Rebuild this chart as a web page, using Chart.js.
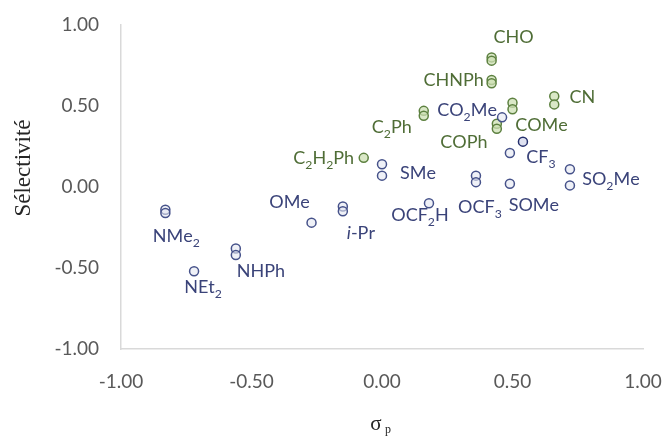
<!DOCTYPE html>
<html>
<head>
<meta charset="utf-8">
<script src="https://cdn.jsdelivr.net/npm/chart.js@4/dist/chart.umd.min.js"></script>
<style>
  html, body { margin: 0; padding: 0; background: #fff; }
  #wrap { width: 667px; height: 437px; }
</style>
</head>
<body>
<div id="wrap"><canvas id="chart"></canvas></div>
<script>
// sigma_p (Hammett) vs selectivity, two families of substituents
const blueSigma = [-0.83, -0.83, -0.72, -0.56, -0.56, -0.27, -0.15, -0.15, 0.00, 0.00, 0.18, 0.36, 0.36, 0.46, 0.49, 0.49, 0.72, 0.72];
const blueSel   = [-0.14, -0.16, -0.52, -0.38, -0.42, -0.22, -0.12, -0.15, 0.14, 0.07, -0.10, 0.07, 0.03, 0.43, 0.02, 0.21, 0.11, 0.01];
const darkSigma = [0.54];
const darkSel   = [0.28];
const greenSigma = [0.42, 0.42, 0.42, 0.42, 0.66, 0.66, 0.50, 0.50, 0.44, 0.44, 0.16, 0.16, -0.07];
const greenSel   = [0.80, 0.78, 0.66, 0.64, 0.56, 0.51, 0.52, 0.48, 0.39, 0.36, 0.47, 0.44, 0.18];

// labels: "_x" = subscript character, "*" toggles italic
const blueLabels  = ['NMe_2', 'NEt_2', 'NHPh', 'OMe', '*i*-Pr', 'SMe', 'OCF_2H', 'OCF_3', 'CO_2Me', 'SOMe', 'CF_3', 'SO_2Me'];
const blueLabelAt = [0, 2, 3, 5, 6, 8, 10, 11, 13, 14, 15, 16];
const blueLabelOffset = [[11, 27], [9, 16], [25, 23], [-22, -20], [18, 27], [36, 9], [-9, 12], [4, 32], [-35, -7], [24, 21], [31, 4], [41, 10]];
const greenLabels  = ['CHO', 'CHNPh', 'CN', 'COMe', 'COPh', 'C_2Ph', 'C_2H_2Ph'];
const greenLabelAt = [0, 2, 4, 6, 8, 10, 12];
const greenLabelOffset = [[22, -20], [-38, 0], [28, 1], [29, 22], [-33, 18], [-32, 16], [-40, 0]];

const xTicks = [-1, -0.5, 0, 0.5, 1];
const yTicks = [-1, -0.5, 0, 0.5, 1];

const BLUE = '#46528a';
const BLUE_TEXT = '#3a4379';
const GREEN = '#5d8140';
const GREEN_TEXT = '#4f6d36';
const LABEL_FONT = 'Lato, sans-serif';
const LABEL_SIZE = 18;

const toPoints = (xs, ys) => xs.map((x, i) => ({ x: x, y: ys[i] }));

function drawRich(ctx, text, cx, cy, size, color) {
  // split into runs
  const runs = [];
  let italic = false;
  for (let i = 0; i < text.length; i++) {
    const ch = text[i];
    if (ch === '*') { italic = !italic; continue; }
    if (ch === '_') { runs.push({ t: text[i + 1], sub: true, italic }); i++; continue; }
    runs.push({ t: ch, sub: false, italic });
  }
  const fontFor = r => (r.italic ? 'italic ' : '') + (r.sub ? size * 0.68 : size) + 'px ' + LABEL_FONT;
  let w = 0;
  runs.forEach(r => { ctx.font = fontFor(r); r.w = ctx.measureText(r.t).width; w += r.w; });
  let x = cx - w / 2;
  ctx.fillStyle = color;
  ctx.textAlign = 'left';
  ctx.textBaseline = 'middle';
  runs.forEach(r => {
    ctx.font = fontFor(r);
    ctx.fillText(r.t, x, r.sub ? cy + size * 0.38 : cy);
    x += r.w;
  });
}

const labelPlugin = {
  id: 'pointLabels',
  afterDatasetsDraw(chart) {
    const ctx = chart.ctx;
    const xs = chart.scales.x, ys = chart.scales.y;
    ctx.save();
    blueLabels.forEach((t, i) => {
      const k = blueLabelAt[i];
      const o = blueLabelOffset[i];
      drawRich(ctx, t, xs.getPixelForValue(blueSigma[k]) + o[0], ys.getPixelForValue(blueSel[k]) + o[1], LABEL_SIZE, BLUE_TEXT);
    });
    greenLabels.forEach((t, i) => {
      const k = greenLabelAt[i];
      const o = greenLabelOffset[i];
      drawRich(ctx, t, xs.getPixelForValue(greenSigma[k]) + o[0], ys.getPixelForValue(greenSel[k]) + o[1], LABEL_SIZE, GREEN_TEXT);
    });
    // axis titles
    const cx = (chart.chartArea.left + chart.chartArea.right) / 2;
    ctx.fillStyle = '#262626';
    ctx.textBaseline = 'middle';
    ctx.textAlign = 'center';
    ctx.font = '21px "Liberation Serif", serif';
    ctx.fillText('σ', cx - 6, 424);
    ctx.font = '12px "Liberation Serif", serif';
    ctx.fillText('p', cx + 6, 430);
    ctx.save();
    ctx.translate(24, 168);
    ctx.rotate(-Math.PI / 2);
    ctx.font = '23px "Liberation Serif", serif';
    ctx.fillText('Sélectivité', 0, 0);
    ctx.restore();
    ctx.restore();
  }
};

new Chart(document.getElementById('chart'), {
  type: 'scatter',
  data: {
    datasets: [
      { label: 'donneurs', data: toPoints(blueSigma, blueSel), borderColor: BLUE, backgroundColor: 'rgba(228,231,242,0.6)' },
      { label: 'CF3', data: toPoints(darkSigma, darkSel), borderColor: '#25306d', backgroundColor: 'rgba(200,205,230,0.6)' },
      { label: 'accepteurs', data: toPoints(greenSigma, greenSel), borderColor: GREEN, backgroundColor: 'rgba(205,224,180,0.75)' }
    ]
  },
  options: {
    responsive: true,
    maintainAspectRatio: false,
    animation: false,
    layout: { padding: { top: 25, right: 24, bottom: 0, left: 0 } },
    elements: { point: { radius: 4.5, borderWidth: 1.5, hoverRadius: 4.5 } },
    plugins: { legend: { display: false }, tooltip: { enabled: false } },
    scales: {
      x: {
        type: 'linear', min: -1, max: 1,
        afterBuildTicks: s => { s.ticks = xTicks.map(v => ({ value: v })); },
        afterFit: s => { s.height = 88; s.paddingLeft = 0; s.paddingRight = 0; },
        ticks: { callback: v => v.toFixed(2), color: '#595959', font: { family: 'Lato', size: 19 }, padding: 21 },
        grid: { display: false, drawTicks: false },
        border: { color: '#d9d9d9', width: 1.5 }
      },
      y: {
        type: 'linear', min: -1, max: 1,
        afterBuildTicks: s => { s.ticks = yTicks.map(v => ({ value: v })); },
        afterFit: s => { s.width = 121; s.paddingTop = 0; s.paddingBottom = 0; },
        ticks: { callback: v => v.toFixed(2), color: '#595959', font: { family: 'Lato', size: 19 }, padding: 22 },
        grid: { display: false, drawTicks: false },
        border: { color: '#d9d9d9', width: 1.5 }
      }
    }
  },
  plugins: [labelPlugin]
});
</script>
</body>
</html>
